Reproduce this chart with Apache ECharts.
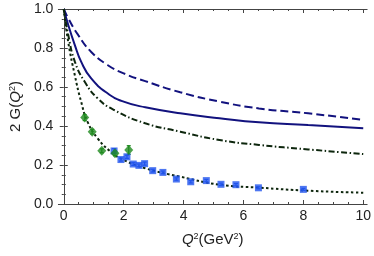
<!DOCTYPE html>
<html><head><meta charset="utf-8">
<script src="https://cdn.jsdelivr.net/npm/echarts@6/dist/echarts.min.js"></script>
<style>html,body{margin:0;padding:0;background:#fff}#c{width:374px;height:256px}</style>
</head><body><div id="c"></div>
<script>
// x-axis labels and tick positions
const xLabels = [0, 2, 4, 6, 8, 10];
const xMinor = [0.5,1,1.5,2.5,3,3.5,4.5,5,5.5,6.5,7,7.5,8.5,9,9.5];
const yLabels = [0.0, 0.2, 0.4, 0.6, 0.8, 1.0];

// dashed navy curve
const dashedX = [0, 0.15, 0.48, 0.91, 1.46, 2.0, 2.72, 3.89, 5.2, 6.52, 8.16, 10];
const dashedY = [1.0, 0.952, 0.867, 0.781, 0.713, 0.67, 0.63, 0.573, 0.525, 0.49, 0.465, 0.431];
// solid navy curve
const solidX = [0, 0.15, 0.37, 0.58, 0.91, 1.46, 2.0, 2.72, 3.89, 5.2, 6.52, 8.16, 10];
const solidY = [1.0, 0.918, 0.815, 0.73, 0.645, 0.568, 0.525, 0.496, 0.465, 0.44, 0.419, 0.405, 0.388];
// dash-dot curve
const dashDotX = [0, 0.15, 0.37, 0.70, 1.13, 1.68, 2.72, 3.89, 5.2, 6.52, 8.16, 10];
const dashDotY = [1.0, 0.867, 0.73, 0.627, 0.542, 0.482, 0.414, 0.371, 0.328, 0.303, 0.28, 0.256];
// dotted curve
const dottedX = [0, 0.15, 0.37, 0.58, 0.80, 1.13, 1.57, 2.0, 2.72, 3.89, 5.2, 6.52, 8.16, 10];
const dottedY = [1.0, 0.83, 0.66, 0.525, 0.42, 0.337, 0.268, 0.226, 0.183, 0.14, 0.099, 0.084, 0.068, 0.058];

// green diamond data
const greenX = [0.70, 0.95, 1.27, 1.71, 2.17];
const greenY = [0.443, 0.371, 0.273, 0.260, 0.277];
const greenErr = [0.015, 0.012, 0.010, 0.012, 0.022];
// blue square data
const blueX = [1.68, 1.91, 2.11, 2.32, 2.51, 2.70, 2.97, 3.31, 3.76, 4.24, 4.76, 5.25, 5.75, 6.50, 8.00];
const blueY = [0.272, 0.228, 0.242, 0.205, 0.198, 0.207, 0.171, 0.162, 0.128, 0.114, 0.120, 0.101, 0.099, 0.083, 0.075];
const blueErr = [0.012, 0.008, 0.008, 0.007, 0.007, 0.008, 0.007, 0.007, 0.006, 0.006, 0.006, 0.006, 0.006, 0.005, 0.005];

const XMIN = -0.18, XMAX = 10.13;
const zip = (a, b) => a.map((v, i) => [v, b[i]]);
const AX = '#444';
const FONT = 'Liberation Sans';

function errSeries(xs, ys, es, color) {
  return {
    type: 'custom', xAxisIndex: 0, yAxisIndex: 0, z: 3,
    data: xs.map((x, i) => [x, ys[i] - es[i], ys[i] + es[i]]),
    renderItem: function (params, api) {
      const lo = api.coord([api.value(0), api.value(1)]);
      const hi = api.coord([api.value(0), api.value(2)]);
      const st = { stroke: color, lineWidth: 1.2 };
      return { type: 'group', children: [
        { type: 'line', shape: { x1: lo[0], y1: lo[1], x2: hi[0], y2: hi[1] }, style: st },
        { type: 'line', shape: { x1: lo[0]-2, y1: lo[1], x2: lo[0]+2, y2: lo[1] }, style: st },
        { type: 'line', shape: { x1: hi[0]-2, y1: hi[1], x2: hi[0]+2, y2: hi[1] }, style: st }
      ]};
    }
  };
}

function lineSeries(xs, ys, color, type) {
  return {
    type: 'line', xAxisIndex: 0, yAxisIndex: 0, data: zip(xs, ys),
    smooth: 0.5, showSymbol: false, z: 2,
    lineStyle: { color: color, width: 2, type: type }
  };
}

const chart = echarts.init(document.getElementById('c'), null, { renderer: 'canvas' });
const baseX = {
  type: 'value', min: XMIN, max: XMAX, splitLine: { show: false },
  axisLine: { show: true, lineStyle: { color: AX, width: 1 } }
};
const nameRich = {
  n: { fontFamily: FONT, fontSize: 15, color: '#222' },
  i: { fontFamily: FONT, fontSize: 15, fontStyle: 'italic', color: '#222' },
  s: { fontFamily: FONT, fontSize: 9, color: '#222', verticalAlign: 'top' }
};
chart.setOption({
  animation: false,
  grid: { left: 56, right: 4, top: 9, bottom: 52 },
  xAxis: [
    Object.assign({}, baseX, {
      position: 'bottom',
      axisTick: { inside: true, length: 4, lineStyle: { color: AX }, customValues: xLabels },
      axisLabel: { customValues: xLabels, fontFamily: FONT, fontSize: 14, color: '#222', margin: 5 },
      name: '{i|Q}{s|2}{n|(GeV}{s|2}{n|)}', nameLocation: 'middle', nameGap: 28,
      nameTextStyle: { rich: nameRich }
    }),
    Object.assign({}, baseX, {
      position: 'bottom', axisLine: { show: false },
      axisTick: { inside: true, length: 2, lineStyle: { color: AX }, customValues: xMinor },
      axisLabel: { show: false }
    }),
    Object.assign({}, baseX, {
      position: 'top',
      axisTick: { inside: true, length: 4, lineStyle: { color: AX }, customValues: xLabels },
      axisLabel: { show: false }
    }),
    Object.assign({}, baseX, {
      position: 'top', axisLine: { show: false },
      axisTick: { inside: true, length: 2, lineStyle: { color: AX }, customValues: xMinor },
      axisLabel: { show: false }
    })
  ],
  yAxis: [
    {
      type: 'value', min: 0, max: 1, interval: 0.2, position: 'left',
      splitLine: { show: false },
      axisLine: { show: true, lineStyle: { color: AX, width: 1 } },
      axisTick: { inside: true, length: 4, lineStyle: { color: AX } },
      minorTick: { show: true, splitNumber: 4, length: 2, lineStyle: { color: AX } },
      axisLabel: { fontFamily: FONT, fontSize: 14, color: '#222', margin: 5,
        formatter: v => v.toFixed(1) },
      name: '{n|2 G(}{i|Q}{s|2}{n|)}', nameLocation: 'middle', nameGap: 34,
      nameTextStyle: { rich: nameRich }
    },
    {
      type: 'value', min: 0, max: 1, interval: 0.2, position: 'right',
      splitLine: { show: false },
      axisLine: { show: true, lineStyle: { color: AX, width: 1 } },
      axisTick: { inside: true, length: 4, lineStyle: { color: AX } },
      minorTick: { show: true, splitNumber: 4, length: 2, lineStyle: { color: AX } },
      axisLabel: { show: false }
    }
  ],
  series: [
    lineSeries(dashedX, dashedY, '#12127e', [8, 4]),
    lineSeries(solidX, solidY, '#12127e', 'solid'),
    lineSeries(dashDotX, dashDotY, '#0d260d', [6, 2.5, 1.5, 2.5]),
    lineSeries(dottedX, dottedY, '#0d260d', [2.5, 2.5]),
    errSeries(blueX, blueY, blueErr, '#2255ee'),
    {
      type: 'scatter', xAxisIndex: 0, yAxisIndex: 0, data: zip(blueX, blueY), z: 4,
      symbol: 'rect', symbolSize: 7, itemStyle: { color: '#2255ee' }
    },
    errSeries(greenX, greenY, greenErr, '#1e8a1e'),
    {
      type: 'scatter', xAxisIndex: 0, yAxisIndex: 0, data: zip(greenX, greenY), z: 5,
      symbol: 'diamond', symbolSize: [9, 10], itemStyle: { color: '#1e8a1e' }
    }
  ]
});
</script></body></html>
